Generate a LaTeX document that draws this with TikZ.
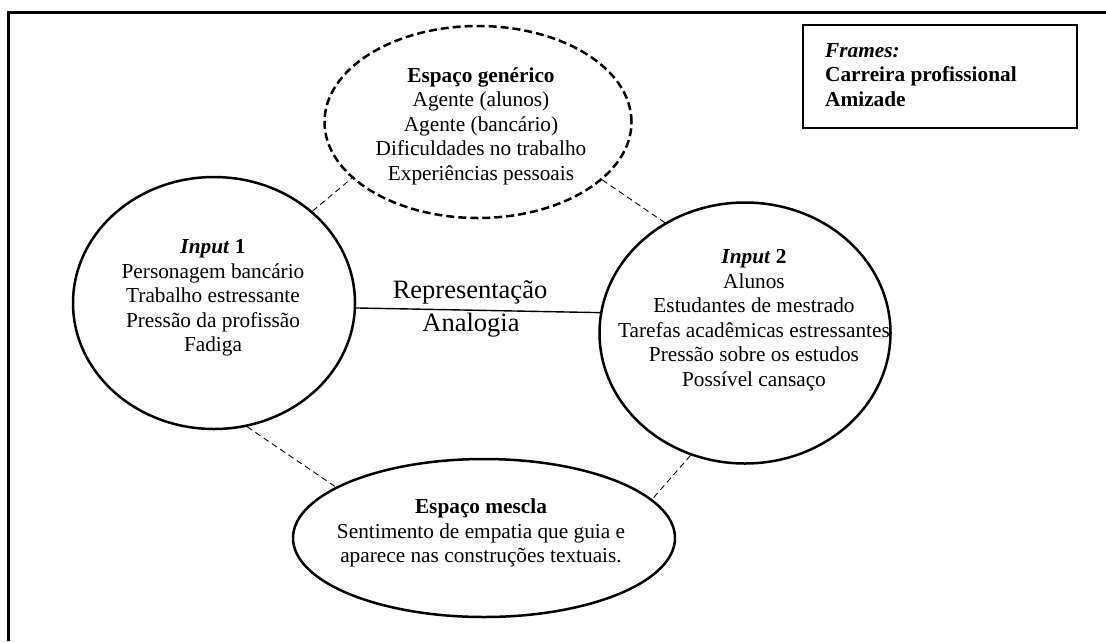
\documentclass[tikz,border=0pt]{standalone}
\usepackage{fontspec}
\setmainfont{Liberation Serif}
\usetikzlibrary{shapes.geometric}
\begin{document}
\begin{tikzpicture}[x=1pt,y=-1pt,
  txt/.style={font=\fontsize{21.3}{24.5}\selectfont, align=center, inner sep=0pt},
  bigtxt/.style={font=\fontsize{26.5}{30}\selectfont, inner sep=0pt},
  blob/.style={ellipse, draw, line width=2.5pt, inner sep=0pt},
  genblob/.style={ellipse, draw, line width=2.5pt, inner sep=0pt, dash pattern=on 8pt off 4pt},
  link/.style={line width=0.9pt, dash pattern=on 6pt off 4pt},
  framebox/.style={draw, line width=2.5pt}
]
\useasboundingbox (0,0) rectangle (1106,641);
% outer frame (top and left sides)
\draw[line width=3pt] (8,641) -- (8,12) -- (1110,12);
% frames box
\draw[framebox] (803,25) rectangle (1077,128);
\node[txt, align=left, anchor=west] (frm) at (825,75)
  {\textbf{\textit{Frames:}}\\\textbf{Carreira profissional}\\\textbf{Amizade}};
% ellipses
\node[genblob, minimum width=307pt, minimum height=192pt] (gen) at (478,122) {};
\node[blob, minimum width=282pt, minimum height=252pt] (in1) at (214,303) {};
\node[blob, minimum width=291pt, minimum height=261pt] (in2) at (745,333) {};
\node[blob, minimum width=382pt, minimum height=158pt] (mes) at (484,538) {};
% texts
\node[txt] (gent) at (481,126) {\textbf{Espaço genérico}\\Agente (alunos)\\Agente (bancário)\\Dificuldades no trabalho\\Experiências pessoais};
\node[txt] (in1t) at (213,298) {\textbf{\textit{Input} 1}\\Personagem bancário\\Trabalho estressante\\Pressão da profissão\\Fadiga};
\node[txt] (in2t) at (754,320) {\textbf{\textit{Input} 2}\\Alunos\\Estudantes de mestrado\\Tarefas acadêmicas estressantes\\Pressão sobre os estudos\\Possível cansaço};
\node[txt] (mest) at (481,533) {\textbf{Espaço mescla}\\Sentimento de empatia que guia e\\aparece nas construções textuais.};
\node[bigtxt] (rep) at (470,292) {Representação};
\node[bigtxt] (ana) at (471,325) {Analogia};
% connectors
\draw[line width=1.4pt] (in1.358) -- (in2.172);
\draw[link] (in1.43) -- (gen.204);
\draw[link] (gen.335) -- (in2.126);
\draw[link] (in1.285) -- (mes.161);
\draw[link] (in2.246) -- (mes.13);
\end{tikzpicture}
\end{document}
